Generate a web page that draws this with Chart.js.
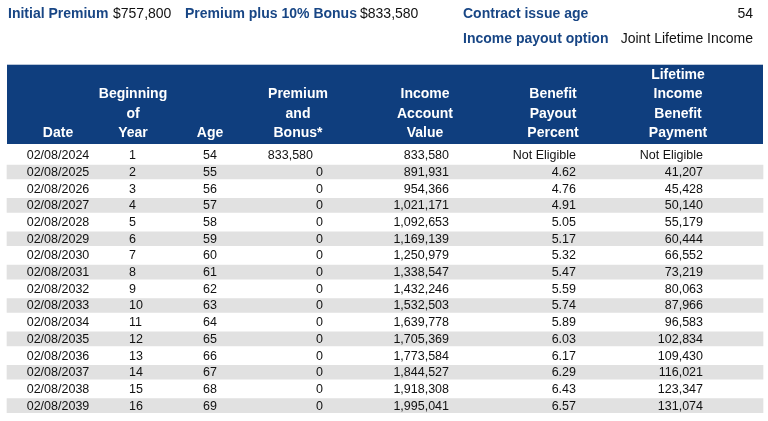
<!DOCTYPE html>
<html>
<head>
<meta charset="utf-8">
<script src="https://cdn.jsdelivr.net/npm/chart.js@4.4.1/dist/chart.umd.min.js"></script>
<style>
  html, body { margin: 0; padding: 0; background: #fff; }
  canvas { display: block; }
</style>
</head>
<body>
<canvas id="income-table" width="768" height="421"></canvas>
<script>
// table values
const dates = ['02/08/2024','02/08/2025','02/08/2026','02/08/2027','02/08/2028','02/08/2029','02/08/2030','02/08/2031',
               '02/08/2032','02/08/2033','02/08/2034','02/08/2035','02/08/2036','02/08/2037','02/08/2038','02/08/2039'];
const years = [1,2,3,4,5,6,7,8,9,10,11,12,13,14,15,16];
const ages = [54,55,56,57,58,59,60,61,62,63,64,65,66,67,68,69];
const premiums = [833580,0,0,0,0,0,0,0,0,0,0,0,0,0,0,0];
const accountValues = [833580,891931,954366,1021171,1092653,1169139,1250979,1338547,
                       1432246,1532503,1639778,1705369,1773584,1844527,1918308,1995041];
const payoutPercents = [null,4.62,4.76,4.91,5.05,5.17,5.32,5.47,5.59,5.74,5.89,6.03,6.17,6.29,6.43,6.57];
const payments = [null,41207,45428,50140,55179,60444,66552,73219,80063,87966,96583,102834,109430,116021,123347,131074];

const summaryLeft = [['Initial Premium', '$757,800'], ['Premium plus 10% Bonus', '$833,580']];
const summaryRight = [['Contract issue age', '54'], ['Income payout option', 'Joint Lifetime Income']];

const headers = [
  ['Date'],
  ['Beginning', 'of', 'Year'],
  ['Age'],
  ['Premium', 'and', 'Bonus*'],
  ['Income', 'Account', 'Value'],
  ['Benefit', 'Payout', 'Percent'],
  ['Lifetime', 'Income', 'Benefit', 'Payment']
];

const NAVY = '#0f3e7e';
const LABEL_BLUE = '#184685';
const FONT = '"Liberation Sans", Arial, Helvetica, sans-serif';
const fmt = n => n.toLocaleString('en-US');

// column layout: header centre and body anchor
const columns = [
  { head: 58,  x: 58,  align: 'center', text: i => dates[i] },
  { head: 133, x: 129, align: 'left',   text: i => String(years[i]) },
  { head: 210, x: 210, align: 'center', text: i => String(ages[i]) },
  { head: 298, x: 323, align: 'right',  text: i => fmt(premiums[i]) },
  { head: 425, x: 449, align: 'right',  text: i => fmt(accountValues[i]) },
  { head: 553, x: 576, align: 'right',  text: i => payoutPercents[i] == null ? 'Not Eligible' : payoutPercents[i].toFixed(2) },
  { head: 678, x: 703, align: 'right',  text: i => payments[i] == null ? 'Not Eligible' : fmt(payments[i]) }
];

const tablePlugin = {
  id: 'tableText',
  beforeDatasetsDraw(chart) {
    const ctx = chart.ctx;
    const xs = chart.scales.x;
    ctx.save();
    // summary lines
    ctx.textBaseline = 'middle';
    ctx.font = 'bold 14px ' + FONT;
    ctx.fillStyle = LABEL_BLUE;
    ctx.textAlign = 'left';
    ctx.fillText(summaryLeft[0][0], 8, 14);
    ctx.fillText(summaryLeft[1][0], 185, 14);
    ctx.fillText(summaryRight[0][0], 463, 14);
    ctx.fillText(summaryRight[1][0], 463, 39);
    ctx.font = '14px ' + FONT;
    ctx.fillStyle = '#111';
    ctx.fillText(summaryLeft[0][1], 113, 14);
    ctx.fillText(summaryLeft[1][1], 360, 14);
    ctx.textAlign = 'right';
    ctx.fillText(summaryRight[0][1], 753, 14);
    ctx.fillText(summaryRight[1][1], 753, 39);

    // header band
    ctx.fillStyle = NAVY;
    ctx.fillRect(xs.getPixelForValue(7), 64, xs.getPixelForValue(763) - xs.getPixelForValue(7), 80);
    ctx.fillStyle = '#b9c6d8';
    ctx.fillRect(xs.getPixelForValue(7), 64, xs.getPixelForValue(763) - xs.getPixelForValue(7), 1);
    ctx.font = 'bold 14px ' + FONT;
    ctx.fillStyle = '#fff';
    ctx.textAlign = 'center';
    headers.forEach((lines, c) => {
      const n = lines.length;
      lines.forEach((ln, k) => {
        ctx.fillText(ln, xs.getPixelForValue(columns[c].head), 133 - (n - 1 - k) * 19.3);
      });
    });
    ctx.restore();
  },
  afterDatasetsDraw(chart) {
    const ctx = chart.ctx;
    const xs = chart.scales.x, ys = chart.scales.y;
    ctx.save();
    ctx.font = '12.5px ' + FONT;
    ctx.fillStyle = '#111';
    ctx.textBaseline = 'middle';
    dates.forEach((d, i) => {
      const y = ys.getPixelForValue(i) + 0.5;
      columns.forEach((col, c) => {
        let x = col.x, align = col.align;
        if (c === 3 && premiums[i] !== 0) { x = 313; }
        ctx.textAlign = align;
        ctx.fillText(col.text(i), xs.getPixelForValue(x), y);
      });
    });
    ctx.restore();
  }
};

new Chart(document.querySelector('#income-table'), {
  type: 'bar',
  data: {
    labels: dates,
    datasets: [{
      label: 'row shading',
      data: dates.map((d, i) => (i % 2 ? [7, 763] : null)),
      backgroundColor: '#e1e1e1',
      borderWidth: 0,
      barThickness: 14,
      borderSkipped: false
    }]
  },
  options: {
    indexAxis: 'y',
    responsive: false,
    maintainAspectRatio: false,
    animation: false,
    layout: { padding: { top: 147, bottom: 7, left: 0, right: 0 } },
    scales: {
      x: { type: 'linear', min: 0, max: 768, display: false },
      y: { type: 'category', display: false, offset: true, grid: { display: false } }
    },
    plugins: {
      legend: { display: false },
      tooltip: { enabled: false }
    }
  },
  plugins: [tablePlugin]
});
</script>
</body>
</html>
